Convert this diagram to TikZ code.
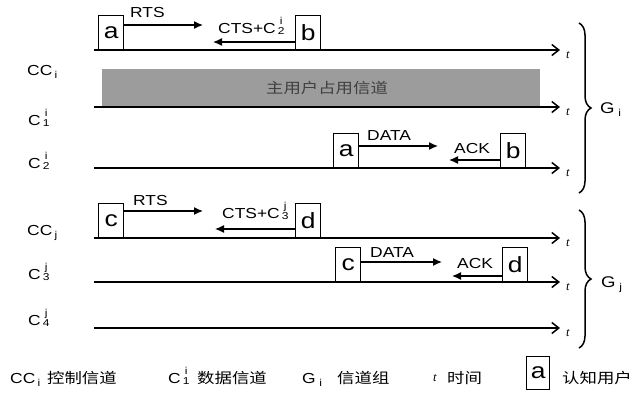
\documentclass[tikz,border=0pt]{standalone}
\usepackage{fontspec}
\usepackage{graphicx}
\setmainfont{Liberation Sans}
\newfontfamily\cjk{Noto Sans CJK SC}
\newfontfamily\tserif{Liberation Serif}
\usetikzlibrary{arrows.meta,decorations.pathreplacing}

% horizontally widened text
\newcommand\wx[1]{\scalebox{1.2}[1]{#1}}
% small lowered index
\newcommand\lo[1]{\raisebox{-3.5pt}{\fontsize{10}{10}\selectfont #1}}
% stacked upper/lower index
\newcommand\ud[2]{\hspace{1.5pt}\rlap{\makebox[6pt]{\raisebox{9pt}{\fontsize{10}{10}\selectfont #1}}}\makebox[6pt]{\raisebox{-1.5pt}{\fontsize{10}{10}\selectfont #2}}}

\tikzset{
  ubox/.style={draw, line width=1.4pt, minimum width=25pt, minimum height=34pt,
    inner sep=0pt, anchor=south west, font=\fontsize{22}{22}\selectfont},
  axis/.style={line width=1.5pt, -{Straight Barb[length=7pt,width=11pt,line width=1.5pt]}},
  msg/.style={line width=1.3pt, -{Latex[length=9pt,width=8pt]}},
  lbl/.style={font=\fontsize{14.5}{14.5}\selectfont, anchor=base west, inner sep=0pt},
  cjklbl/.style={font=\cjk\fontsize{14.5}{14.5}\selectfont, anchor=base west, inner sep=0pt},
  tlab/.style={font=\tserif\itshape\fontsize{12.5}{12.5}\selectfont, inner sep=0pt},
  grp/.style={line width=1.5pt, decorate, decoration={brace, amplitude=12pt}},
}

\begin{document}
\begin{tikzpicture}[x=1pt,y=-1pt]
\useasboundingbox (0,0) rectangle (638,392);

% primary user band on C_1^i
\fill[gray!78] (102,69) rectangle (540,107);
\node[font=\cjk\fontsize{14.5}{14.5}\selectfont, text=black!75, inner sep=0pt] (pu) at (327,88) {\wx{主用户占用信道}};

% time axes
\foreach \n/\y in {cci/50, c1i/107, c2i/168, ccj/238, c3j/282, c4j/328} {
  \coordinate (s-\n) at (94,\y);
  \coordinate (e-\n) at (560,\y);
  \draw[axis] (s-\n) -- (e-\n);
  \node[tlab, anchor=base west] (t-\n) at (566,\y+8) {t};
}

% channel names
\node[lbl] (l-cci) at (27,75)  {\wx{CC\hspace{2pt}\lo{i}}};
\node[lbl] (l-c1i) at (28,125) {\wx{C\ud{i}{1}}};
\node[lbl] (l-c2i) at (28,168) {\wx{C\ud{i}{2}}};
\node[lbl] (l-ccj) at (27,235) {\wx{CC\hspace{2pt}\lo{j}}};
\node[lbl] (l-c3j) at (28,279) {\wx{C\ud{j}{3}}};
\node[lbl] (l-c4j) at (28,325) {\wx{C\ud{j}{4}}};

% group i: control handshake
\node[ubox] (a1) at (98,50)  {\wx{a}};
\node[ubox] (b1) at (295,50) {\wx{b}};
\coordinate (rts1) at (203,25);
\coordinate (cts1) at (213,42);
\draw[msg] (a1.east |- rts1) -- (rts1);
\draw[msg] (b1.west |- cts1) -- (cts1);
\node[lbl] (rts1l) at (130,17) {\wx{RTS}};
\node[lbl] (cts1l) at (218,33) {\wx{CTS+C\ud{i}{2}}};

% group i: data exchange
\node[ubox] (a2) at (333,168) {\wx{a}};
\node[ubox] (b2) at (500,168) {\wx{b}};
\coordinate (data1) at (438,146);
\coordinate (ack1) at (449,160);
\draw[msg] (a2.east |- data1) -- (data1);
\draw[msg] (b2.west |- ack1) -- (ack1);
\node[lbl] (data1l) at (367,140) {\wx{DATA}};
\node[lbl] (ack1l) at (454,153) {\wx{ACK}};

% group j: control handshake
\node[ubox] (c1) at (98,238)  {\wx{c}};
\node[ubox] (d1) at (295,238) {\wx{d}};
\coordinate (rts2) at (203,211);
\coordinate (cts2) at (215,229);
\draw[msg] (c1.east |- rts2) -- (rts2);
\draw[msg] (d1.west |- cts2) -- (cts2);
\node[lbl] (rts2l) at (133,205) {\wx{RTS}};
\node[lbl] (cts2l) at (222,218) {\wx{CTS+C\ud{j}{3}}};

% group j: data exchange
\node[ubox] (c2) at (335,282) {\wx{c}};
\node[ubox] (d2) at (502,282) {\wx{d}};
\coordinate (data2) at (442,262);
\coordinate (ack2) at (452,276);
\draw[msg] (c2.east |- data2) -- (data2);
\draw[msg] (d2.west |- ack2) -- (ack2);
\node[lbl] (data2l) at (370,257) {\wx{DATA}};
\node[lbl] (ack2l) at (457,268) {\wx{ACK}};

% channel groups
\coordinate (gi-top) at (579,23);
\coordinate (gi-bot) at (579,193);
\coordinate (gj-top) at (579,210);
\coordinate (gj-bot) at (579,348);
\draw[grp] (gi-top) -- (gi-bot);
\draw[grp] (gj-top) -- (gj-bot);
\node[lbl, font=\fontsize{15.5}{15.5}\selectfont] (gi) at (600,113) {\wx{G\hspace{3pt}\lo{i}}};
\node[lbl, font=\fontsize{15.5}{15.5}\selectfont] (gj) at (601,287) {\wx{G\hspace{3pt}\lo{j}}};

% legend
\node[lbl] (k-cc) at (10,383) {\wx{CC\hspace{2pt}\lo{i}}};
\node[cjklbl] (k-cct) at (47,383) {\wx{控制信道}};
\node[lbl] (k-c) at (168,383) {\wx{C\ud{i}{1}}};
\node[cjklbl] (k-ct) at (197,383) {\wx{数据信道}};
\node[lbl] (k-g) at (302,383) {\wx{G\hspace{3pt}\lo{i}}};
\node[cjklbl] (k-gt) at (337,383) {\wx{信道组}};
\node[tlab, anchor=base west] (k-t) at (433,381) {t};
\node[cjklbl] (k-tt) at (447,383) {\wx{时间}};
\node[ubox, minimum width=23pt, minimum height=33pt] (k-a) at (526,390) {\wx{a}};
\node[cjklbl] (k-at) at (562,383) {\wx{认知用户}};
\end{tikzpicture}
\end{document}
